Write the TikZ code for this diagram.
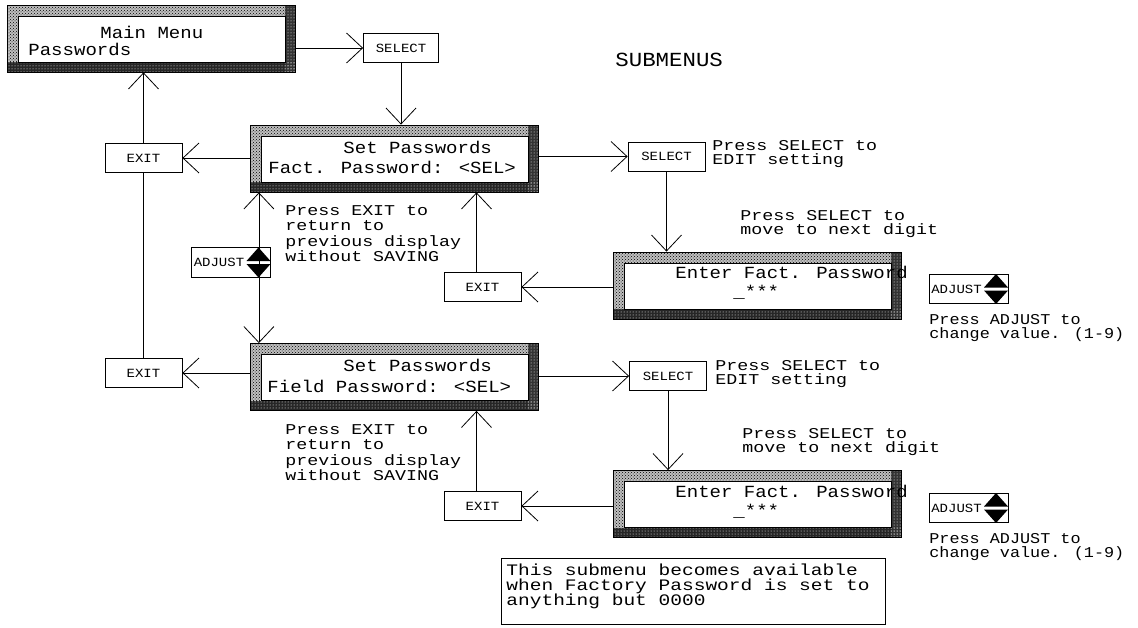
\documentclass[tikz,border=0pt]{standalone}
\usepackage{fontspec}
\newfontfamily\cad[FakeStretch=1.12]{Liberation Mono}
\newfontfamily\cadw[FakeStretch=1.22]{Liberation Mono}
\usetikzlibrary{arrows.meta,patterns}

\begin{document}
\begin{tikzpicture}[x=1pt, y=-1pt, line width=0.8pt, >={Straight Barb[length=16pt,width=30pt]}]
\tikzstyle{lcd}=[draw, minimum width=288pt, minimum height=67pt, inner sep=0pt,
  path picture={
    \fill[black!25] (path picture bounding box.south west) rectangle (path picture bounding box.north east);
    \fill[pattern=crosshatch dots, pattern color=black] (path picture bounding box.south west) rectangle (path picture bounding box.north east);
    \fill[black!85] (path picture bounding box.south west) rectangle ([yshift=10pt]path picture bounding box.south east);
    \fill[black!80] ([xshift=-10pt]path picture bounding box.south east) rectangle (path picture bounding box.north east);
    \fill[pattern=dots, pattern color=white] (path picture bounding box.south west) rectangle ([yshift=10pt]path picture bounding box.south east);
    \fill[pattern=dots, pattern color=white] ([xshift=-10pt]path picture bounding box.south east) rectangle (path picture bounding box.north east);
    \draw[fill=white] ([shift={(11pt,10pt)}]path picture bounding box.south west) rectangle ([shift={(-10pt,-11pt)}]path picture bounding box.north east);
  }]
\tikzstyle{txt}=[anchor=base west, inner sep=0pt, font=\cad\fontsize{17}{17}\selectfont]
\tikzstyle{lbl}=[anchor=north west, inner sep=0pt, align=left, font=\cadw\fontsize{15}{14.5}\selectfont]
\tikzstyle{btn}=[draw, fill=white, minimum width=77pt, minimum height=29pt, inner sep=2pt, font=\cad\fontsize{12.5}{12.5}\selectfont]
\tikzstyle{adjbtn}=[btn, minimum width=79pt, minimum height=29.5pt,
  path picture={
    \fill[black] ([shift={(-12pt,15pt)}]path picture bounding box.east) -- ([shift={(0pt,1.5pt)}]path picture bounding box.east) -- ([shift={(-24pt,1.5pt)}]path picture bounding box.east) -- cycle;
    \fill[black] ([shift={(-12pt,-15pt)}]path picture bounding box.east) -- ([shift={(0pt,-1.5pt)}]path picture bounding box.east) -- ([shift={(-24pt,-1.5pt)}]path picture bounding box.east) -- cycle;
  }]
\useasboundingbox (0,0) rectangle (1138,627);

\draw (151,38.5) node (main) [lcd] {};
\draw (394,158.5) node (set1) [lcd] {};
\draw (394,377) node (set2) [lcd] {};
\draw (757,285.5) node (enter1) [lcd] {};
\draw (757,504) node (enter2) [lcd] {};

\draw (100,38) node (mainl1) [txt] {Main Menu};
\draw (28,55) node (mainl2) [txt] {Passwords};
\draw (343,153) node (set1l1) [txt] {Set Passwords};
\draw (268,173) node (set1l2) [txt] {Fact. Password: <SEL>};
\draw (343,371) node (set2l1) [txt] {Set Passwords};
\draw (267,392) node (set2l2) [txt] {Field Password: <SEL>};
\draw (675,278) node (enter1l1) [txt] {Enter Fact. Password};
\draw (733,297) node (enter1l2) [txt] {\_***};
\draw (675,497) node (enter2l1) [txt] {Enter Fact. Password};
\draw (733,516) node (enter2l2) [txt] {\_***};

\draw (401,48) node (sel1) [btn, minimum width=75pt] {SELECT};
\draw (666.5,156.5) node (sel2) [btn] {SELECT};
\draw (668,376) node (sel3) [btn] {SELECT};
\draw (143.5,158) node (exit1) [btn] {EXIT};
\draw (143.5,373) node (exit3) [btn] {EXIT};
\draw (482.5,287) node (exit2) [btn] {EXIT};
\draw (482.5,506) node (exit4) [btn] {EXIT};
\draw (231,262.5) node (adj1) [adjbtn] {ADJUST\rule{24pt}{0pt}};
\draw (968.5,289) node (adj2) [adjbtn] {ADJUST\rule{24pt}{0pt}};
\draw (968.5,508) node (adj3) [adjbtn] {ADJUST\rule{24pt}{0pt}};

\draw[->] (main.east |- sel1) -- (sel1);
\draw[->] (sel1) -- (sel1 |- set1.north);
\draw[->] (set1.east |- sel2) -- (sel2);
\draw[->] (sel2) -- (sel2 |- enter1.north);
\draw[->] (enter1.west |- exit2) -- (exit2);
\draw[->] ([xshift=-6pt]exit2.north) -- ([xshift=-6pt]exit2.north |- set1.south);
\draw[->] (set1.west |- exit1) -- (exit1);
\draw[->] (exit1) -- (exit1 |- main.south);
\draw (exit3) -- (exit1);
\draw[<->] ([xshift=-12pt]adj1.east |- set1.south) -- ([xshift=-12pt]adj1.east |- set2.north);
\draw[->] (set2.west |- exit3) -- (exit3);
\draw[->] (set2.east |- sel3) -- (sel3);
\draw[->] (sel3) -- (sel3 |- enter2.north);
\draw[->] (enter2.west |- exit4) -- (exit4);
\draw[->] ([xshift=-6pt]exit4.north) -- ([xshift=-6pt]exit4.north |- set2.south);

\draw (615,53) node (subm) [lbl, font=\cad\fontsize{20}{20}\selectfont] {SUBMENUS};
\draw (285,205) node (hint1) [lbl, font=\cadw\fontsize{15}{15.5}\selectfont] {Press EXIT to\\return to\\previous display\\without SAVING};
\draw (285,424) node (hint2) [lbl, font=\cadw\fontsize{15}{15.5}\selectfont] {Press EXIT to\\return to\\previous display\\without SAVING};
\draw (712,140) node (selhint1) [lbl] {Press SELECT to\\EDIT setting};
\draw (715,360) node (selhint2) [lbl] {Press SELECT to\\EDIT setting};
\draw (740,210) node (nexthint1) [lbl] {Press SELECT to\\move to next digit};
\draw (742,428) node (nexthint2) [lbl] {Press SELECT to\\move to next digit};
\draw (929,314) node (adjhint1) [lbl, font=\cad\fontsize{15}{14.5}\selectfont] {Press ADJUST to\\change value. (1-9)};
\draw (929,533) node (adjhint2) [lbl, font=\cad\fontsize{15}{14.5}\selectfont] {Press ADJUST to\\change value. (1-9)};

\draw (693,591) node (note) [draw, minimum width=384pt, minimum height=66pt] {};
\draw (506,563) node (notetxt) [lbl, font=\cadw\fontsize{16}{15}\selectfont] {This submenu becomes available\\when Factory Password is set to\\anything but 0000};
\end{tikzpicture}
\end{document}
